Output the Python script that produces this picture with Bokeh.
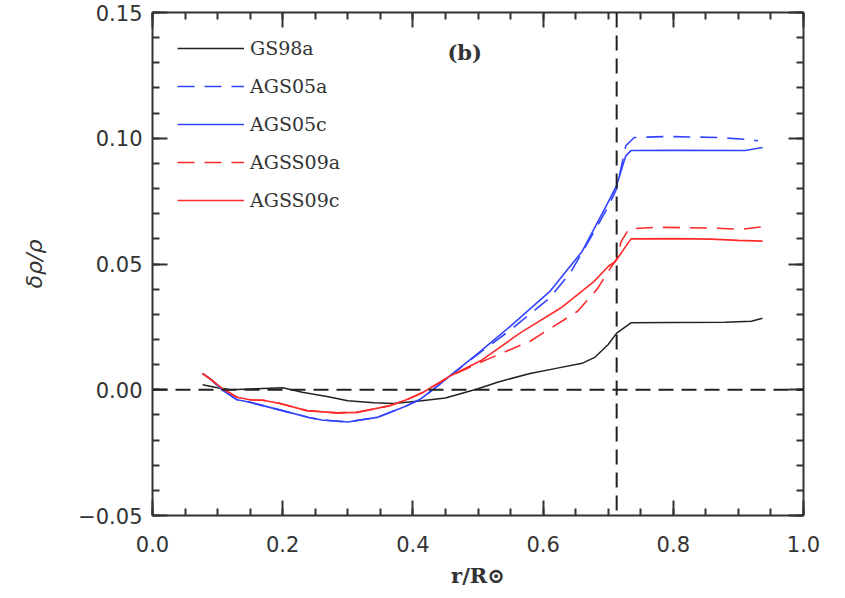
from bokeh.plotting import figure
from bokeh.models import LinearAxis, FixedTicker, Span, Label, CustomJSTickFormatter
from bokeh.embed import file_html
from bokeh.resources import INLINE
import numpy as np

# ---------------- data ----------------
r_gs98a = [0.077, 0.10, 0.12, 0.16, 0.20, 0.23, 0.27, 0.30, 0.34, 0.37, 0.41, 0.45,
           0.50, 0.53, 0.58, 0.62, 0.66, 0.68, 0.70, 0.713, 0.735, 0.80, 0.88, 0.92, 0.937]
v_gs98a = [0.0020, 0.0008, 0.0000, 0.0004, 0.0008, -0.0010, -0.0028, -0.0044, -0.0052,
           -0.0055, -0.0045, -0.0033, 0.0004, 0.0030, 0.0065, 0.0085, 0.0105, 0.0130,
           0.0180, 0.0225, 0.0266, 0.0267, 0.0268, 0.0272, 0.0284]

r_ags05c = [0.077, 0.09, 0.107, 0.13, 0.15, 0.18, 0.21, 0.24, 0.26, 0.30, 0.345, 0.385,
            0.41, 0.427, 0.457, 0.50, 0.55, 0.61, 0.66, 0.70, 0.713, 0.727, 0.735, 0.80,
            0.91, 0.937]
v_ags05c = [0.0065, 0.0040, 0.0000, -0.0040, -0.0050, -0.0070, -0.0090, -0.0110, -0.0120,
            -0.0128, -0.0110, -0.0070, -0.0040, -0.0007, 0.0055, 0.0145, 0.0253, 0.0390,
            0.0550, 0.0746, 0.0813, 0.0930, 0.0951, 0.0952, 0.0951, 0.0963]

r_ags05a = [0.077, 0.09, 0.107, 0.13, 0.15, 0.18, 0.21, 0.24, 0.26, 0.30, 0.345, 0.385,
            0.41, 0.427, 0.457, 0.50, 0.55, 0.61, 0.642, 0.683, 0.70, 0.713, 0.727, 0.74,
            0.79, 0.868, 0.908, 0.93]
v_ags05a = [0.0065, 0.0040, 0.0000, -0.0040, -0.0050, -0.0070, -0.0090, -0.0110, -0.0120,
            -0.0128, -0.0110, -0.0070, -0.0040, -0.0007, 0.0055, 0.0142, 0.0238, 0.0365,
            0.0465, 0.0650, 0.0728, 0.0800, 0.0970, 0.1003, 0.1007, 0.1003, 0.0996, 0.0990]

r_agss09c = [0.077, 0.09, 0.107, 0.13, 0.15, 0.17, 0.196, 0.237, 0.283, 0.314, 0.365, 0.39,
             0.416, 0.457, 0.504, 0.565, 0.627, 0.678, 0.70, 0.711, 0.735, 0.80, 0.858,
             0.90, 0.937]
v_agss09c = [0.0064, 0.0040, 0.0005, -0.0030, -0.0040, -0.0042, -0.0055, -0.0083, -0.0092,
             -0.0090, -0.0063, -0.0040, -0.0010, 0.0055, 0.0115, 0.0226, 0.0325, 0.0430,
             0.0490, 0.0510, 0.0600, 0.0601, 0.0599, 0.0594, 0.0591]

r_agss09a = [0.077, 0.09, 0.107, 0.13, 0.15, 0.17, 0.196, 0.237, 0.283, 0.314, 0.365, 0.39,
             0.416, 0.457, 0.50, 0.58, 0.653, 0.683, 0.70, 0.713, 0.72, 0.732, 0.776,
             0.86, 0.904, 0.935]
v_agss09a = [0.0064, 0.0040, 0.0005, -0.0030, -0.0040, -0.0042, -0.0055, -0.0083, -0.0092,
             -0.0090, -0.0063, -0.0040, -0.0010, 0.0053, 0.0105, 0.0193, 0.0312, 0.0400,
             0.0470, 0.0520, 0.0590, 0.0640, 0.0646, 0.0643, 0.0638, 0.0647]

r_cz_base = 0.713          # base of the convection zone (vertical dashed line)

x_major = [0.0, 0.2, 0.4, 0.6, 0.8, 1.0]
y_major = [-0.05, 0.0, 0.05, 0.10, 0.15]

# ---------------- figure ----------------
DARK = "#333333"
BLUE = "#3344ff"
RED = "#ff2a2a"

p = figure(width=845, height=598, x_range=(0.0, 1.0), y_range=(-0.05, 0.15),
           output_backend="svg", toolbar_location=None,
           min_border_left=152, min_border_right=42, min_border_top=12,
           min_border_bottom=83, x_axis_location="below", y_axis_location="left")
p.outline_line_color = None
p.xgrid.visible = False
p.ygrid.visible = False
p.background_fill_color = "white"
p.border_fill_color = "white"

x_minor = [round(v, 3) for v in np.arange(0.0, 1.0001, 0.05)]
y_minor = [round(v, 3) for v in np.arange(-0.05, 0.1501, 0.01)]
xt = FixedTicker(ticks=x_major, minor_ticks=x_minor)
yt = FixedTicker(ticks=y_major, minor_ticks=y_minor)


def style_axis(ax):
    ax.axis_line_color = DARK
    ax.axis_line_width = 2
    ax.major_tick_line_color = DARK
    ax.major_tick_line_width = 2
    ax.minor_tick_line_color = DARK
    ax.minor_tick_line_width = 2
    ax.major_tick_in = 15
    ax.major_tick_out = 0
    ax.minor_tick_in = 7
    ax.minor_tick_out = 0
    ax.major_label_text_font = "DejaVu Sans"
    ax.major_label_text_font_size = "21px"
    ax.major_label_text_color = DARK


xa = p.xaxis[0]
ya = p.yaxis[0]
xa.ticker = xt
ya.ticker = yt
style_axis(xa)
style_axis(ya)
xa.formatter = CustomJSTickFormatter(code="return tick.toFixed(1)")
ya.formatter = CustomJSTickFormatter(code="return (tick < 0 ? '\u2212' + Math.abs(tick).toFixed(2) : tick.toFixed(2))")
xa.major_label_standoff = 20
ya.major_label_standoff = 10

xa.axis_label = "r/R⊙"
xa.axis_label_text_font = "DejaVu Serif"
xa.axis_label_text_font_style = "bold"
xa.axis_label_text_font_size = "21px"
xa.axis_label_text_color = DARK
xa.axis_label_standoff = 8

ya.axis_label = "δρ/ρ"
ya.axis_label_text_font = "DejaVu Sans"
ya.axis_label_text_font_style = "italic"
ya.axis_label_text_font_size = "22px"
ya.axis_label_text_color = DARK
ya.axis_label_standoff = 28

empty = CustomJSTickFormatter(code="return ''")
top = LinearAxis(ticker=xt, formatter=empty)
right = LinearAxis(ticker=yt, formatter=empty)
for ax in (top, right):
    style_axis(ax)
    ax.major_label_standoff = 0
p.add_layout(top, "above")
p.add_layout(right, "right")

# reference lines
p.add_layout(Span(location=0.0, dimension="width", line_color="#222222",
                  line_width=2, line_dash="15 8"))
p.add_layout(Span(location=r_cz_base, dimension="height", line_color="#222222",
                  line_width=2, line_dash="15 8"))

# series
p.line(r_gs98a, v_gs98a, line_color="#222222", line_width=1.5, legend_label="GS98a")
p.line(r_ags05a, v_ags05a, line_color=BLUE, line_width=1.6, line_dash="17 10",
       legend_label="AGS05a")
p.line(r_ags05c, v_ags05c, line_color=BLUE, line_width=1.6, legend_label="AGS05c")
p.line(r_agss09a, v_agss09a, line_color=RED, line_width=1.6, line_dash="17 10",
       legend_label="AGSS09a")
p.line(r_agss09c, v_agss09c, line_color=RED, line_width=1.6, legend_label="AGSS09c")

lg = p.legend[0]
lg.location = "top_left"
lg.margin = 25
lg.padding = 0
lg.border_line_color = None
lg.background_fill_alpha = 0
lg.glyph_width = 67
lg.glyph_height = 20
lg.label_height = 20
lg.spacing = 16
lg.label_standoff = 6
lg.label_text_font = "DejaVu Serif"
lg.label_text_font_size = "19px"
lg.label_text_color = DARK

p.add_layout(Label(x=0.453, y=0.134, text="(b)", text_font="DejaVu Serif",
                   text_font_style="bold", text_font_size="21px", text_color=DARK,
                   text_baseline="middle", text_align="left"))

open("out.html", "w").write(file_html(p, INLINE))
